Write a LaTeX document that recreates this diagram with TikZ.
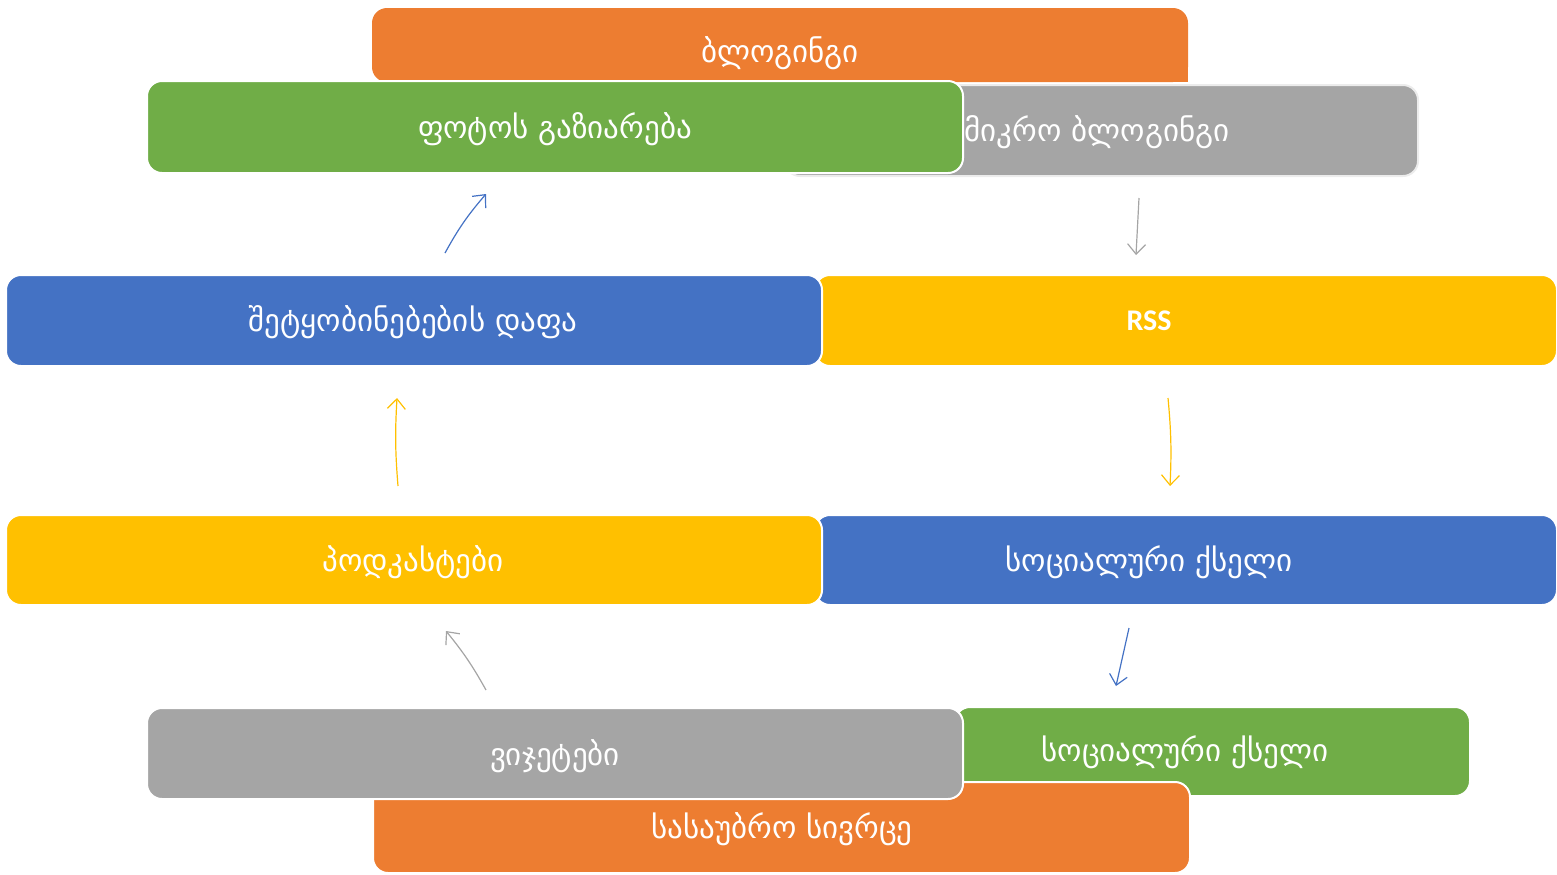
\documentclass[tikz,border=0pt]{standalone}
\usepackage{fontspec}
\setmainfont{DejaVu Sans}
\newfontfamily\rssfont{Carlito}
\usetikzlibrary{arrows.meta,calc}
\definecolor{orangeC}{HTML}{ED7D31}
\definecolor{greenC}{HTML}{70AD47}
\definecolor{grayC}{HTML}{A5A5A5}
\definecolor{blueC}{HTML}{4472C4}
\definecolor{yellowC}{HTML}{FFC000}
\tikzset{
  box/.style={draw=white, line width=1pt, rounded corners=7.5pt, inner sep=0pt, anchor=center},
  lbl/.style={text=white, font=\fontsize{15.5}{18}\selectfont, inner sep=0pt, anchor=center},
  arr/.style={line width=0.6pt, -{Straight Barb[length=5pt,width=9pt]}},
}
\begin{document}
\begin{tikzpicture}[x=0.5pt,y=-0.5pt]
\useasboundingbox (0,0) rectangle (1557,874);
% top group
\node[box, draw=none, outer sep=0pt, fill=orangeC, minimum width=408pt, minimum height=37pt] (blogbox) at (780,45) {};
\fill[orangeC] ($(blogbox.south east)+(-30,0)$) rectangle ($(blogbox.south east)+(0,-30)$);
\node[lbl] (blog) at (780,53) {ბლოგინგი};
\node[box, draw=white!85!gray, fill=grayC, minimum width=316.5pt, minimum height=45.5pt] (microbox) at (1101.5,130.5) {};
\node[lbl] (micro) at (1097,132) {მიკრო ბლოგინგი};
\node[box, fill=greenC, minimum width=408pt, minimum height=46pt] (photobox) at (555,127) {};
\node[lbl] (photo) at (555,129) {ფოტოს გაზიარება};
% middle rows
\node[box, fill=yellowC, minimum width=371pt, minimum height=45.5pt] (rssbox) at (1186,320.5) {};
\node[lbl, font=\rssfont\bfseries\fontsize{15}{17}\selectfont] (rss) at (1149,321) {RSS};
\node[box, fill=blueC, minimum width=408pt, minimum height=45.5pt] (boardbox) at (414,320.5) {};
\node[lbl] (board) at (413,322) {შეტყობინებების დაფა};
\node[box, fill=blueC, minimum width=371pt, minimum height=45pt] (socbox) at (1186,560) {};
\node[lbl] (soc) at (1149,562) {სოციალური ქსელი};
\node[box, fill=yellowC, minimum width=408pt, minimum height=45pt] (podbox) at (414,560) {};
\node[lbl] (pod) at (413,562) {პოდკასტები};
% bottom group
\node[box, fill=greenC, minimum width=257.5pt, minimum height=44.5pt] (soc2box) at (1212.5,751.5) {};
\node[lbl] (soc2) at (1185,752) {სოციალური ქსელი};
\node[box, fill=orangeC, minimum width=408.5pt, minimum height=45.5pt] (chatbox) at (781.5,827.5) {};
\node[lbl] (chat) at (782,829) {სასაუბრო სივრცე};
\node[box, fill=grayC, minimum width=408pt, minimum height=45.5pt] (widgetbox) at (555,753.5) {};
\node[lbl] (widget) at (555,756) {ვიჯეტები};
% arrows
\coordinate (a1s) at (445,253); \coordinate (a1e) at (486,194);
\coordinate (a2s) at (1139,198); \coordinate (a2e) at (1136,255);
\coordinate (a3s) at (1168,398); \coordinate (a3e) at (1170,486);
\coordinate (a4s) at (1129,628); \coordinate (a4e) at (1116,686);
\coordinate (a5s) at (486,690); \coordinate (a5e) at (446,631);
\coordinate (a6s) at (398,486); \coordinate (a6e) at (397,398);
\draw[arr, blueC] (a1s) to[bend left=6] (a1e);
\draw[arr, grayC] (a2s) -- (a2e);
\draw[arr, yellowC] (a3s) to[bend left=4] (a3e);
\draw[arr, blueC] (a4s) -- (a4e);
\draw[arr, grayC] (a5s) to[bend right=5] (a5e);
\draw[arr, yellowC] (a6s) to[bend left=4] (a6e);
\end{tikzpicture}
\end{document}
